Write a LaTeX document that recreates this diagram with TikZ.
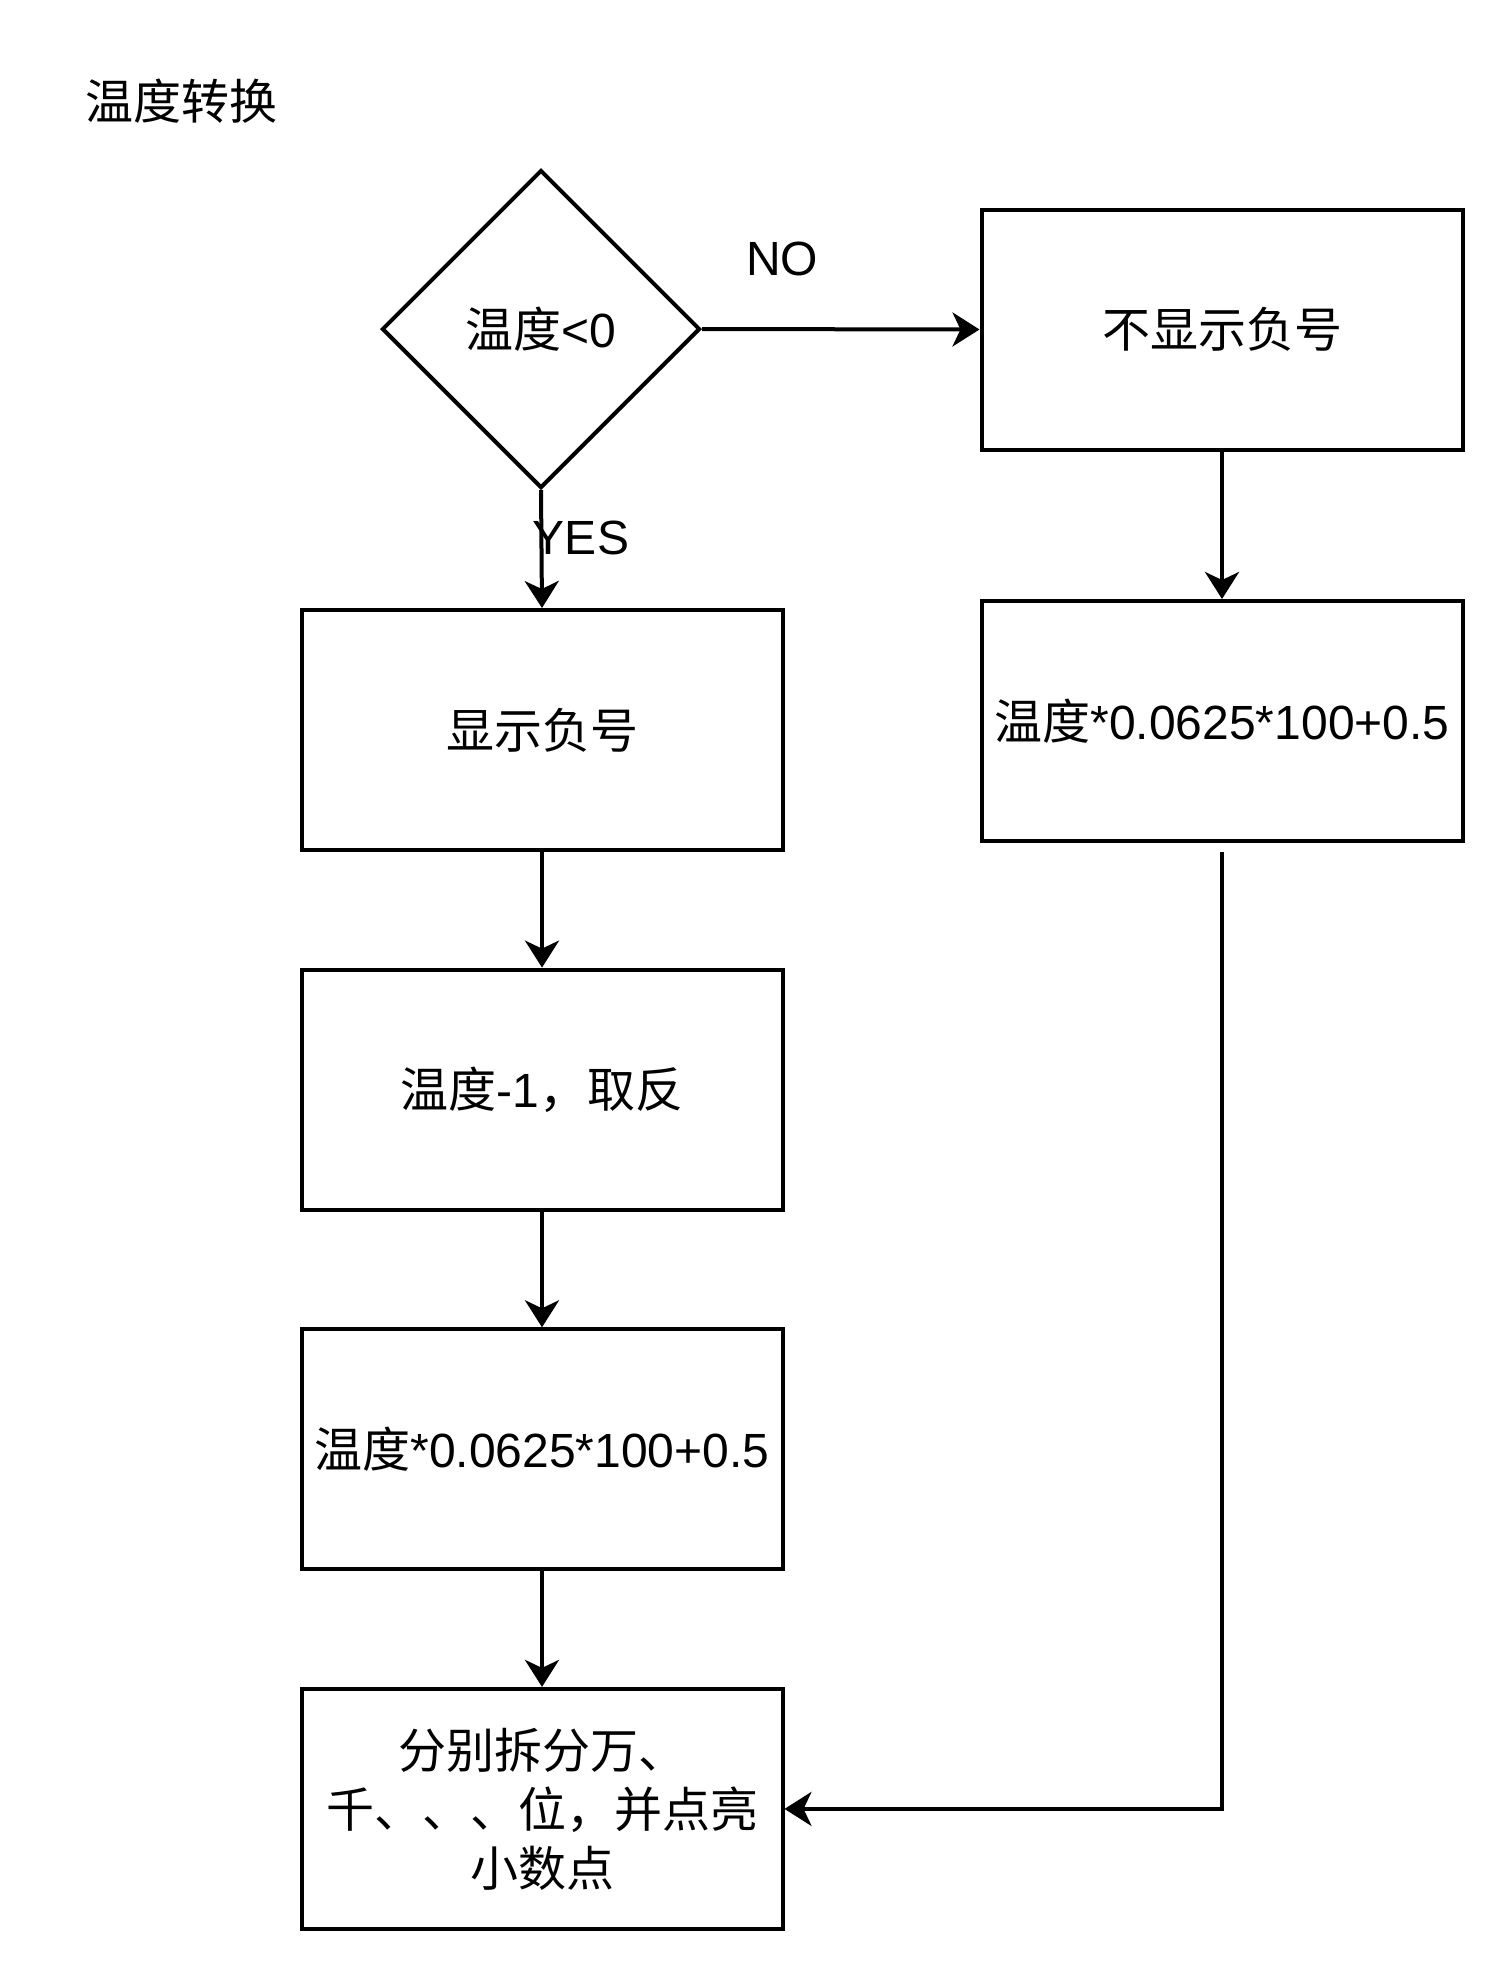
\documentclass[tikz,border=0pt]{standalone}
\usepackage{fontspec}
\setmainfont{Liberation Sans}
\newfontfamily\cjk{Noto Sans CJK SC}
\usetikzlibrary{shapes.geometric,arrows.meta}
\begin{document}
\begin{tikzpicture}[x=0.5pt,y=-0.5pt,
  every node/.style={font=\fontsize{24}{29.5}\selectfont},
  procbox/.style={draw,line width=2pt,minimum width=240.5pt,minimum height=120pt,inner sep=0pt,align=center},
  decbox/.style={draw,diamond,line width=2pt,minimum width=159pt,minimum height=159pt,inner sep=0pt},
  conn/.style={line width=2pt,-{Stealth[length=13.5pt,width=17pt,inset=4pt]}},
  lbl/.style={inner sep=0pt}]
\useasboundingbox (0,0) rectangle (1504,1972);
\node[lbl,anchor=west] (title) at (85,101) {\cjk 温度转换};
\node[decbox] (dec) at (541,329) {{\cjk 温度}<0};
\node[procbox] (nobox) at (1222,329.5) {\cjk 不显示负号};
\node[procbox] (rbox) at (1222,721) {{\cjk 温度}*0.0625*100+0.5};
\node[procbox] (box1) at (542,730) {\cjk 显示负号};
\node[procbox] (box2) at (542,1089.6) {{\cjk 温度}-1{\cjk ，取反}};
\node[procbox] (box3) at (542,1449.3) {{\cjk 温度}*0.0625*100+0.5};
\node[procbox] (box4) at (542,1808.9) {\cjk 分别拆分万、\\\cjk 千、、、位，并点亮\\\cjk 小数点};
\node[lbl] (nolbl) at (782,259) {NO};
\node[lbl] (yeslbl) at (581,538) {YES};
\draw[conn] (dec.east) -- (nobox.west);
\draw[conn] (dec.south) -- (box1.north);
\draw[conn] (nobox.south) -- (rbox.north);
\draw[conn] (box1.south) -- (box2.north);
\draw[conn] (box2.south) -- (box3.north);
\draw[conn] (box3.south) -- (box4.north);
\draw[conn,shorten <=4.5pt] (rbox.south) |- (box4.east);
\end{tikzpicture}
\end{document}
